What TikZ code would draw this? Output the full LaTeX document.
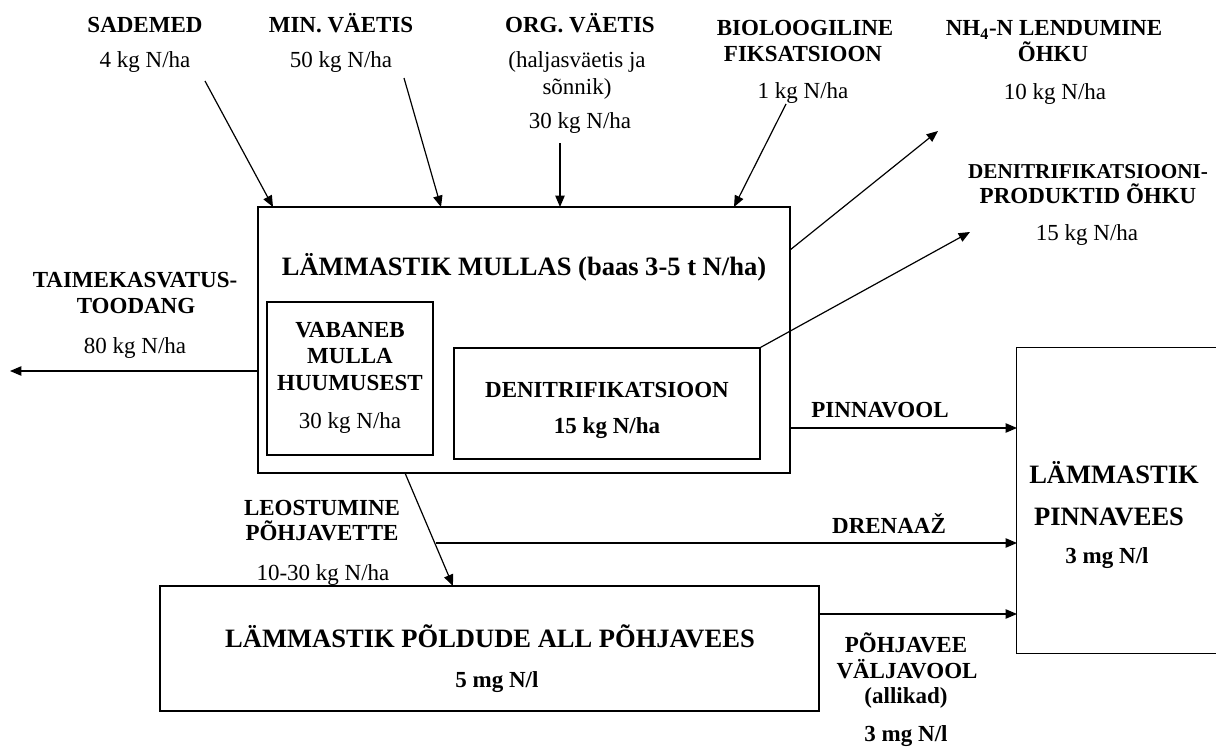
\documentclass[tikz,border=0pt]{standalone}
\usepackage{fontspec}
\setmainfont{Liberation Serif}
\usetikzlibrary{arrows.meta,fit}
\newcommand\fnorm{\fontsize{17.25}{19.5}\selectfont}
\newcommand\fsmall{\fontsize{15.9}{19.5}\selectfont}
\newcommand\fbig{\fontsize{19.9}{22}\selectfont\bfseries}
\begin{document}
\begin{tikzpicture}[x=0.75pt,y=-0.75pt,
  t/.style={inner sep=0,anchor=base,font=\fnorm},
  tb/.style={inner sep=0,anchor=base,font=\fnorm\bfseries},
  tbig/.style={inner sep=0,anchor=base,font=\fbig},
  box/.style={draw,line width=1pt,inner sep=0},
  arr/.style={line width=0.9pt,-{Triangle[length=8.5pt,width=7pt]}},
  ln/.style={line width=0.9pt}]
\fill[white] (0,0) rectangle (1216,746);
\useasboundingbox (0,0) rectangle (1216,746);

% boxes
\node[box,fit={(258,207) (790,473)}] (main) {};
\node[box,fit={(267,302) (433,455)}] (vab) {};
\node[box,fit={(454,348) (760,459)}] (den) {};
\node[box,fit={(160,586) (819,711)}] (pohi) {};
\node[inner sep=0,fit={(1017,348) (1240,653)}] (pinna) {};
\draw[ln] (pinna.north east) -- (pinna.north west) -- (pinna.south west) -- (pinna.south east);

% top inputs
\node[tb] (sadT) at (145,32) {SADEMED};
\node[t] (sadV) at (145,67) {4 kg N/ha};
\node[tb] (minT) at (341,32) {MIN. VÄETIS};
\node[t] (minV) at (341,67) {50 kg N/ha};
\node[tb] (orgT) at (580,32) {ORG. VÄETIS};
\node[t] (orgA) at (577,67) {(haljasväetis ja};
\node[t] (orgB) at (577,94) {sõnnik)};
\node[t] (orgV) at (580,128) {30 kg N/ha};
\node[tb] (bioA) at (805,36) {BIOLOOGILINE};
\node[tb] (bioB) at (803,61) {FIKSATSIOON};
\node[t] (bioV) at (803,98) {1 kg N/ha};
\node[tb] (nhA) at (1054,36) {NH\textsubscript{4}-N LENDUMINE};
\node[tb] (nhB) at (1053,61) {ÕHKU};
\node[t] (nhV) at (1055,99) {10 kg N/ha};
\node[tb,font=\fsmall\bfseries] (dpA) at (1088,178) {DENITRIFIKATSIOONI-};
\node[tb] (dpB) at (1088,203) {PRODUKTID ÕHKU};
\node[t] (dpV) at (1087,240) {15 kg N/ha};

% main box texts
\node[tbig] (mainT) at (524,275) {LÄMMASTIK MULLAS (baas 3-5 t N/ha)};
\node[tb] (vabA) at (350,337) {VABANEB};
\node[tb] (vabB) at (350,363) {MULLA};
\node[tb] (vabC) at (350,390) {HUUMUSEST};
\node[t] (vabV) at (350,428) {30 kg N/ha};
\node[tb] (denT) at (607,397) {DENITRIFIKATSIOON};
\node[tb] (denV) at (607,433) {15 kg N/ha};

% left output
\node[tb] (taiA) at (135,287) {TAIMEKASVATUS-};
\node[tb] (taiB) at (136,313) {TOODANG};
\node[t] (taiV) at (135,353) {80 kg N/ha};

% right box
\node[tbig] (pinA) at (1114,483) {LÄMMASTIK};
\node[tbig] (pinB) at (1109,525) {PINNAVEES};
\node[tb] (pinV) at (1107,563) {3 mg N/l};

% bottom box
\node[tbig] (pohT) at (490,647) {LÄMMASTIK PÕLDUDE ALL PÕHJAVEES};
\node[tb] (pohV) at (497,687) {5 mg N/l};

% flow labels
\node[tb] (pvT) at (880,417) {PINNAVOOL};
\node[tb] (drT) at (889,533) {DRENAAŽ};
\node[tb] (leA) at (322,515) {LEOSTUMINE};
\node[tb] (leB) at (322,540) {PÕHJAVETTE};
\node[t] (leV) at (323,580) {10-30 kg N/ha};
\node[tb] (pjA) at (906,652) {PÕHJAVEE};
\node[tb] (pjB) at (907,678) {VÄLJAVOOL};
\node[tb] (pjC) at (906,703) {(allikad)};
\node[tb] (pjV) at (906,741) {3 mg N/l};

% connector end points
\coordinate (sadS) at (205,81);  \coordinate (sadE) at (273,207);
\coordinate (minS) at (404,78);  \coordinate (minE) at (441,207);
\coordinate (orgS) at (560,143); \coordinate (orgE) at (560,207);
\coordinate (bioS) at (786,104); \coordinate (bioE) at (734,207);
\coordinate (nhS) at (790,250);  \coordinate (nhE) at (938,131);
\coordinate (dpE) at (970,232);
\coordinate (taiS) at (258,371); \coordinate (taiE) at (10,371);
\coordinate (pvS) at (790,428);  \coordinate (pvE) at (1017,428);
\coordinate (leS) at (405,473);  \coordinate (leE) at (453,586);
\coordinate (drS) at (436,543);  \coordinate (drE) at (1017,543);
\coordinate (pjS) at (819,614);  \coordinate (pjE) at (1017,614);

\draw[arr] (sadS) -- (sadE);
\draw[arr] (minS) -- (minE);
\draw[arr] (orgS) -- (orgE);
\draw[arr] (bioS) -- (bioE);
\draw[arr] (nhS) -- (nhE);
\draw[arr] (den.north east) -- (dpE);
\draw[arr] (taiS) -- (taiE);
\draw[arr] (pvS) -- (pvE);
\draw[arr] (leS) -- (leE);
\draw[arr] (drS) -- (drE);
\draw[arr] (pjS) -- (pjE);
\end{tikzpicture}
\end{document}
